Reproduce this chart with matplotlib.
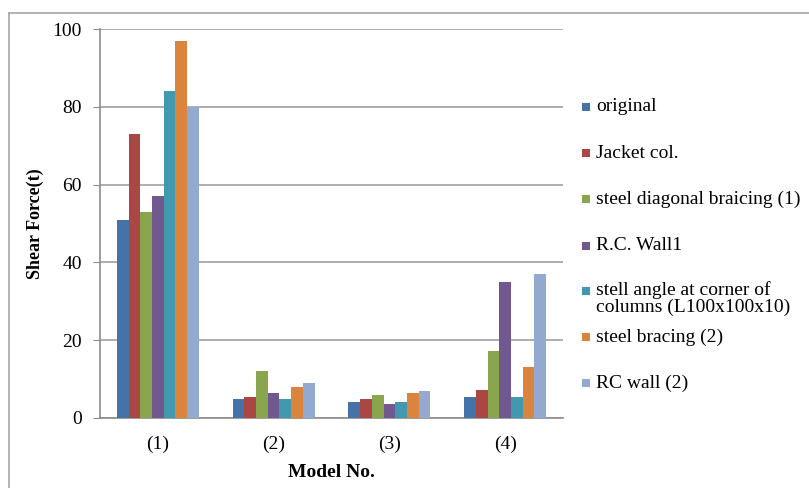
import matplotlib
matplotlib.use("Agg")
import matplotlib.pyplot as plt
from matplotlib.lines import Line2D
from matplotlib.patches import Rectangle
import numpy as np

plt.rcParams['font.family'] = ['Liberation Serif', 'DejaVu Serif']

models = ["(1)", "(2)", "(3)", "(4)"]
series_names = [
    "original",
    "Jacket col.",
    "steel diagonal braicing (1)",
    "R.C. Wall1",
    "stell angle at corner of\ncolumns (L100x100x10)",
    "steel bracing (2)",
    "RC wall (2)",
]
original = [51, 5, 4, 5.5]
jacket_col = [73, 5.5, 5, 7.2]
steel_diag_1 = [53, 12, 6, 17.3]
rc_wall_1 = [57, 6.5, 3.7, 35]
steel_angle = [84, 5, 4, 5.5]
steel_bracing_2 = [97, 8, 6.5, 13.2]
rc_wall_2 = [80, 9, 7, 37]
series_values = [original, jacket_col, steel_diag_1, rc_wall_1,
                 steel_angle, steel_bracing_2, rc_wall_2]
colors = ["#4572A7", "#AA4643", "#89A54E", "#71588F",
          "#4198AF", "#DB843D", "#93A9CF"]
y_ticks = [0, 20, 40, 60, 80, 100]

W, H = 809, 488
fig = plt.figure(figsize=(W / 100, H / 100), dpi=100)

# outer chart frame (top and left edges visible)
fig.add_artist(Line2D([9 / W, 1.0], [1 - 13 / H, 1 - 13 / H],
                      color="#a6a6a6", lw=1.2, transform=fig.transFigure))
fig.add_artist(Line2D([9 / W, 9 / W], [0, 1 - 13 / H],
                      color="#a6a6a6", lw=1.2, transform=fig.transFigure))

left, right, top, bottom = 100, 563, 29, 418
ax = fig.add_axes([left / W, 1 - bottom / H, (right - left) / W, (bottom - top) / H])

n = len(series_values)
x = np.arange(len(models))
group_frac = 0.71
bw = group_frac / n
for i, (vals, c) in enumerate(zip(series_values, colors)):
    ax.bar(x - group_frac / 2 + bw * (i + 0.5), vals, width=bw, color=c,
           edgecolor="none", zorder=3)

ax.set_xlim(-0.5, len(models) - 0.5)
ax.set_ylim(0, 100)
ax.set_yticks(y_ticks)
ax.set_yticklabels([str(t) for t in y_ticks], fontsize=14)
ax.set_xticks(x)
ax.set_xticklabels(models, fontsize=14)
ax.tick_params(axis="x", length=0, pad=13)
ax.tick_params(axis="y", length=5, color="#8c8c8c", direction="out", pad=8)
ax.yaxis.grid(True, color="#a0a0a0", lw=1.2, zorder=0)
for s in ["top", "right"]:
    ax.spines[s].set_visible(False)
ax.spines["left"].set_color("#8c8c8c")
ax.spines["bottom"].set_color("#8c8c8c")
ax.spines["left"].set_linewidth(1.2)
ax.spines["bottom"].set_linewidth(1.2)

fig.text(35 / W, 1 - 224 / H, "Shear Force(t)", fontsize=13, fontweight="bold",
         rotation=90, ha="center", va="center")
ax.set_xlabel("Model No.", fontsize=14, fontweight="bold", labelpad=8)

# legend on the right
leg_y = [107, 153, 199, 246, 291, 337, 383]
for name, c, yy in zip(series_names, colors, leg_y):
    fig.add_artist(Rectangle((582 / W, 1 - (yy + 4) / H), 8 / W, 8 / H,
                             facecolor=c, edgecolor="none",
                             transform=fig.transFigure))
    if "\n" in name:
        fig.text(596 / W, 1 - (yy - 10) / H, name, fontsize=14, va="top",
                 ha="left", linespacing=1.02)
    else:
        fig.text(596 / W, 1 - yy / H, name, fontsize=14, va="center", ha="left")

fig.savefig("out.png", dpi=100)
